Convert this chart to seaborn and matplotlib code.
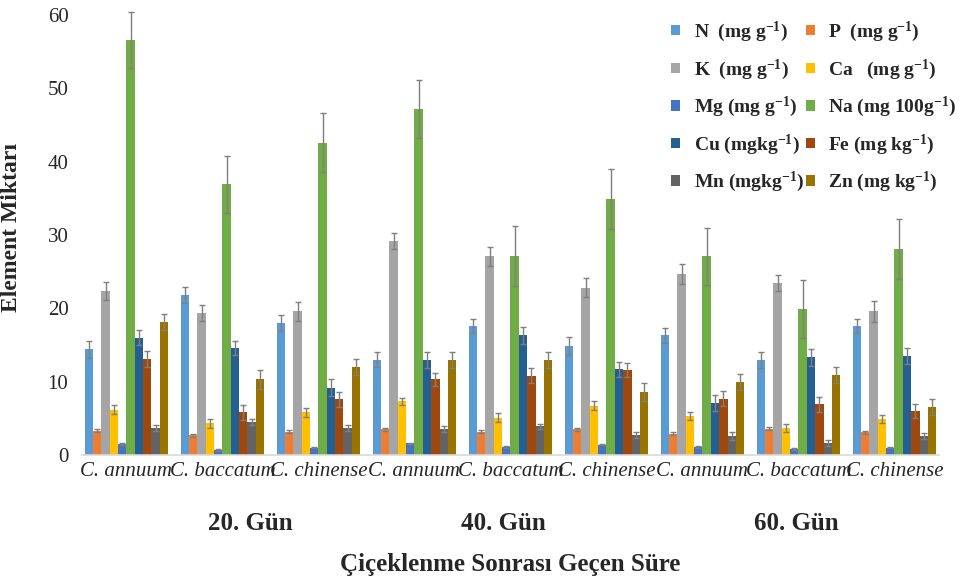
import numpy as np
import pandas as pd
import matplotlib
matplotlib.use("Agg")
import matplotlib.pyplot as plt
from matplotlib.transforms import blended_transform_factory
import seaborn as sns

# ---------------- data ----------------
species = ["C. annuum", "C. baccatum", "C. chinense"]
days = ["20. Gün", "40. Gün", "60. Gün"]
elements = ["N", "P", "K", "Ca", "Mg", "Na", "Cu", "Fe", "Mn", "Zn"]
legend_labels = [
    r"N  (mg g$^{\mathbf{-1}}$)",
    r"P  (mg g$^{\mathbf{-1}}$)",
    r"K  (mg g$^{\mathbf{-1}}$)",
    r"Ca   (mg g$^{\mathbf{-1}}$)",
    r"Mg (mg g$^{\mathbf{-1}}$)",
    r"Na (mg 100g$^{\mathbf{-1}}$)",
    r"Cu (mgkg$^{\mathbf{-1}}$)",
    r"Fe (mg kg$^{\mathbf{-1}}$)",
    r"Mn (mgkg$^{\mathbf{-1}}$)",
    r"Zn (mg kg$^{\mathbf{-1}}$)",
]
colors = ["#5B9BD5", "#ED7D31", "#A5A5A5", "#FFC000", "#4472C4",
          "#70AD47", "#255E91", "#9E480E", "#636363", "#997300"]

# order: annuum20, baccatum20, chinense20, annuum40, ..., chinense60
N_val  = [14.4, 21.8, 18.0, 13.0, 17.6, 14.9, 16.3, 13.0, 17.6]
N_err  = [1.2, 1.1, 1.1, 1.0, 1.0, 1.2, 1.0, 1.1, 1.0]
P_val  = [3.3, 2.7, 3.2, 3.5, 3.2, 3.5, 2.9, 3.6, 3.1]
P_err  = [0.2, 0.2, 0.2, 0.2, 0.2, 0.2, 0.2, 0.2, 0.2]
K_val  = [22.4, 19.4, 19.6, 29.2, 27.1, 22.8, 24.7, 23.5, 19.6]
K_err  = [1.2, 1.1, 1.3, 1.1, 1.3, 1.3, 1.4, 1.1, 1.4]
Ca_val = [6.2, 4.3, 5.8, 7.3, 5.1, 6.7, 5.3, 3.7, 4.9]
Ca_err = [0.6, 0.6, 0.6, 0.5, 0.6, 0.6, 0.5, 0.5, 0.5]
Mg_val = [1.5, 0.7, 1.0, 1.6, 1.1, 1.4, 1.1, 0.8, 1.0]
Mg_err = [0.1, 0.1, 0.1, 0.1, 0.1, 0.1, 0.1, 0.1, 0.1]
Na_val = [56.6, 36.9, 42.6, 47.2, 27.1, 34.9, 27.1, 19.9, 28.1]
Na_err = [3.8, 3.9, 4.0, 4.0, 4.1, 4.1, 3.9, 4.0, 4.1]
Cu_val = [16.0, 14.6, 9.2, 13.0, 16.3, 11.7, 7.1, 13.3, 13.5]
Cu_err = [1.0, 1.0, 1.1, 1.1, 1.1, 1.0, 1.1, 1.1, 1.1]
Fe_val = [13.1, 5.8, 7.6, 10.3, 10.8, 11.6, 7.7, 6.9, 6.0]
Fe_err = [1.1, 1.0, 1.0, 0.9, 1.0, 0.9, 1.0, 1.0, 1.0]
Mn_val = [3.7, 4.5, 3.7, 3.6, 3.9, 2.7, 2.6, 1.6, 2.6]
Mn_err = [0.4, 0.4, 0.4, 0.4, 0.3, 0.4, 0.5, 0.4, 0.4]
Zn_val = [18.1, 10.3, 12.0, 13.0, 13.0, 8.6, 10.0, 10.9, 6.5]
Zn_err = [1.1, 1.3, 1.1, 1.1, 1.1, 1.2, 1.1, 1.1, 1.1]

values = [N_val, P_val, K_val, Ca_val, Mg_val, Na_val, Cu_val, Fe_val, Mn_val, Zn_val]
errors = [N_err, P_err, K_err, Ca_err, Mg_err, Na_err, Cu_err, Fe_err, Mn_err, Zn_err]

y_label = "Element Miktarı"
x_label = "Çiçeklenme Sonrası Geçen Süre"

# ---------------- build table ----------------
groups = [f"{s}|{d}" for d in days for s in species]
rows = []
for el, vals, errs in zip(elements, values, errors):
    for g, v, e in zip(groups, vals, errs):
        rows.append({"group": g, "element": el, "value": v, "err": e})
df = pd.DataFrame(rows)

# ---------------- style ----------------
sns.set_style("white")
plt.rcParams["font.family"] = ["Liberation Serif", "DejaVu Serif"]
plt.rcParams["mathtext.fontset"] = "custom"
plt.rcParams["mathtext.rm"] = "Liberation Serif"
plt.rcParams["mathtext.bf"] = "Liberation Serif:bold"
plt.rcParams["mathtext.it"] = "Liberation Serif:italic"

fig = plt.figure(figsize=(9.76, 5.81), dpi=100)
ax = fig.add_axes([0.0843, 0.2169, 0.8774, 0.7573])

sns.barplot(data=df, x="group", y="value", hue="element", order=groups,
            hue_order=elements, palette=colors, width=0.87, gap=0,
            errorbar=None, saturation=1, linewidth=0, ax=ax)

# error bars positioned on the drawn bars
for cont, el in zip(ax.containers, elements):
    xs = [p.get_x() + p.get_width() / 2 for p in cont]
    hs = [p.get_height() for p in cont]
    errs = df[df.element == el].set_index("group").loc[groups, "err"].values
    ax.errorbar(xs, hs, yerr=errs, fmt="none", ecolor="#7F7F7F",
                elinewidth=1.0, capsize=2, capthick=1.0, clip_on=False, zorder=5)

ax.set_ylim(0, 60)
ax.set_xlim(-0.46, 8.46)
ax.set_yticks([0, 10, 20, 30, 40, 50, 60])
ax.tick_params(axis="y", length=0, pad=10, labelsize=15)
ax.tick_params(axis="x", length=0, pad=5)
ax.set_xticks(range(len(groups)))
ax.set_xticklabels([g.split("|")[0] for g in groups], fontstyle="italic", fontsize=15)

for s in ["top", "right", "left"]:
    ax.spines[s].set_visible(False)
ax.spines["bottom"].set_color("#D9D9D9")
ax.spines["bottom"].set_linewidth(1.2)

ax.set_ylabel(y_label, fontsize=17, fontweight="bold")
ax.yaxis.set_label_coords(-0.0704, 0.516)
ax.set_xlabel(x_label, fontsize=18, fontweight="bold", va="center")
ax.xaxis.set_label_coords(0.5, -0.25)

trans = blended_transform_factory(ax.transData, ax.transAxes)
for xpos, d in zip([1.29, 3.93, 6.98], days):
    ax.text(xpos, -0.155, d, transform=trans, ha="center", va="center",
            fontsize=18, fontweight="bold")

# legend (row-major order as in reference)
handles, _ = ax.get_legend_handles_labels()
if ax.legend_ is not None:
    ax.legend_.remove()
order = [0, 2, 4, 6, 8, 1, 3, 5, 7, 9]
fig.legend([handles[i] for i in order], [legend_labels[i] for i in order],
           ncol=2, loc="upper left", bbox_to_anchor=(0.688, 0.966),
           frameon=False, prop={"weight": "bold", "size": 14},
           handlelength=0.45, handleheight=0.45, handletextpad=0.7,
           labelspacing=0.68, columnspacing=0.1, borderpad=0, borderaxespad=0)

fig.savefig("out.png", dpi=100)
